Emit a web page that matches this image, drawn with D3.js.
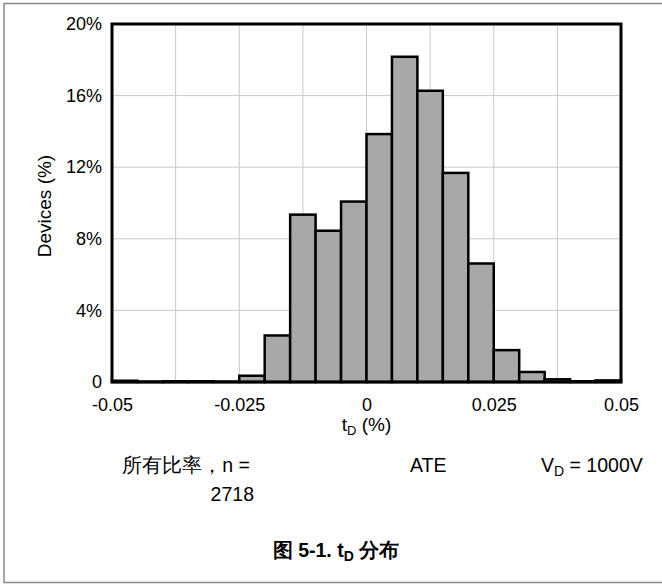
<!DOCTYPE html>
<html>
<head>
<meta charset="utf-8">
<script src="https://cdn.jsdelivr.net/npm/d3@7"></script>
<style>
  html, body { margin: 0; padding: 0; background: #fff; }
  svg text { font-family: "Liberation Sans", Arial, sans-serif; fill: #000; }
</style>
</head>
<body>
<svg id="chart" width="662" height="585"></svg>
<script>
// Histogram of t_D, 20 bins of width 0.005 from -0.05 to 0.05
const binStarts = [-0.05, -0.045, -0.04, -0.035, -0.03, -0.025, -0.02, -0.015, -0.01, -0.005,
                   0, 0.005, 0.01, 0.015, 0.02, 0.025, 0.03, 0.035, 0.04, 0.045];
const devicesPct = [0.07, 0.02, 0.04, 0.04, 0.02, 0.35, 2.6, 9.35, 8.45, 10.08,
                    13.85, 18.17, 16.27, 11.68, 6.62, 1.78, 0.56, 0.15, 0.04, 0.09];
const binWidth = 0.005;
const xTicks = [-0.05, -0.025, 0, 0.025, 0.05];
const xTickLabels = ["-0.05", "-0.025", "0", "0.025", "0.05"];
const xGrid = [-0.0375, -0.025, -0.0125, 0, 0.0125, 0.025, 0.0375];
const yTicks = [0, 4, 8, 12, 16, 20];
const yTickLabels = ["0", "4%", "8%", "12%", "16%", "20%"];

const svg = d3.select("#chart");
const plot = { left: 112, top: 24, right: 621, bottom: 382 };

const x = d3.scaleLinear().domain([-0.05, 0.05]).range([plot.left, plot.right]);
const y = d3.scaleLinear().domain([0, 20]).range([plot.bottom, plot.top]);

// outer frame
svg.append("rect")
  .attr("x", 4).attr("y", 3.5).attr("width", 670).attr("height", 579)
  .attr("fill", "none").attr("stroke", "#8a8a8a").attr("stroke-width", 1.5);

// grid
svg.append("g").selectAll("line").data(xGrid).join("line")
  .attr("x1", d => x(d)).attr("x2", d => x(d))
  .attr("y1", plot.top).attr("y2", plot.bottom)
  .attr("stroke", "#c8c8c8").attr("stroke-width", 1);
svg.append("g").selectAll("line").data(yTicks.slice(1, -1)).join("line")
  .attr("x1", plot.left).attr("x2", plot.right)
  .attr("y1", d => y(d)).attr("y2", d => y(d))
  .attr("stroke", "#c8c8c8").attr("stroke-width", 1);

// bars
svg.append("g").selectAll("rect").data(binStarts).join("rect")
  .attr("x", d => x(d))
  .attr("width", d => x(d + binWidth) - x(d))
  .attr("y", (d, i) => y(devicesPct[i]))
  .attr("height", (d, i) => y(0) - y(devicesPct[i]))
  .attr("fill", "#a8a8a8").attr("stroke", "#000").attr("stroke-width", 2.5);

// plot frame
svg.append("rect")
  .attr("x", plot.left).attr("y", plot.top)
  .attr("width", plot.right - plot.left).attr("height", plot.bottom - plot.top)
  .attr("fill", "none").attr("stroke", "#000").attr("stroke-width", 3);

// axes
const xAxis = d3.axisBottom(x).tickValues(xTicks).tickSize(0).tickPadding(0)
  .tickFormat((d, i) => xTickLabels[i]);
svg.append("g").attr("transform", `translate(0,${plot.bottom})`).call(xAxis)
  .call(g => g.select(".domain").remove())
  .selectAll("text").attr("dy", null).attr("y", 29)
  .style("font-size", "18px");

const yAxis = d3.axisLeft(y).tickValues(yTicks).tickSize(0).tickPadding(10)
  .tickFormat((d, i) => yTickLabels[i]);
svg.append("g").attr("transform", `translate(${plot.left},0)`).call(yAxis)
  .call(g => g.select(".domain").remove())
  .selectAll("text").style("font-size", "18px");

// axis titles
const xt = svg.append("text").attr("x", x(0)).attr("y", 431)
  .attr("text-anchor", "middle").style("font-size", "19px");
xt.append("tspan").text("t");
xt.append("tspan").attr("dy", 4).style("font-size", "13px").text("D");
xt.append("tspan").attr("dy", -4).text(" (%)");

svg.append("text")
  .attr("transform", "translate(51,206) rotate(-90)")
  .attr("text-anchor", "middle").style("font-size", "19px")
  .text("Devices (%)");

// conditions
svg.append("text").attr("x", 250).attr("y", 472).attr("text-anchor", "end")
  .style("font-size", "19.5px")
  .text("所有比率，n =");
svg.append("text").attr("x", 254).attr("y", 501).attr("text-anchor", "end")
  .style("font-size", "19.5px").text("2718");
svg.append("text").attr("x", 410).attr("y", 472)
  .style("font-size", "19.5px").text("ATE");
const vd = svg.append("text").attr("x", 541).attr("y", 472)
  .style("font-size", "19.5px");
vd.append("tspan").text("V");
vd.append("tspan").attr("dy", 4).style("font-size", "14px").text("D");
vd.append("tspan").attr("dy", -4).text(" = 1000V");

// caption
const cap = svg.append("text").attr("x", 336).attr("y", 557).attr("text-anchor", "middle")
  .style("font-size", "19.5px").style("font-weight", "bold");
cap.append("tspan").text("图 5-1. t");
cap.append("tspan").attr("dy", 4).style("font-size", "14px").text("D");
cap.append("tspan").attr("dy", -4).text(" 分布");
</script>
</body>
</html>
